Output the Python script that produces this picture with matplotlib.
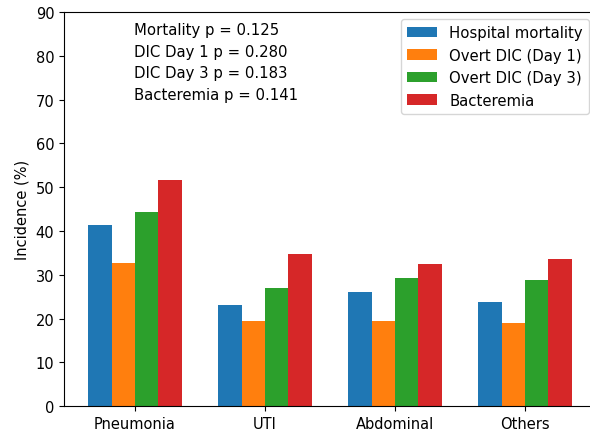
import numpy as np
import matplotlib
matplotlib.use("Agg")
from matplotlib import pyplot as plt

categories = ['Pneumonia', 'UTI', 'Abdominal', 'Others']
series_names = ['Hospital mortality', 'Overt DIC (Day 1)', 'Overt DIC (Day 3)', 'Bacteremia']
mortality = [41.4, 23.1, 26.0, 23.9]
dic_day1 = [32.6, 19.5, 19.5, 19.1]
dic_day3 = [44.3, 27.0, 29.2, 28.7]
bacteremia = [51.6, 34.8, 32.4, 33.6]
pvals = ['Mortality p = 0.125', 'DIC Day 1 p = 0.280', 'DIC Day 3 p = 0.183', 'Bacteremia p = 0.141']

plt.rcParams['font.size'] = 10.5

fig = plt.figure(figsize=(5.9, 4.35), dpi=100)
# the source image is cropped: right spine sits just past the edge
ax = fig.add_axes([0.1085, 0.064, 0.9017, 0.906])

x = np.arange(len(categories))
width = 0.18
data = [mortality, dic_day1, dic_day3, bacteremia]
for i, (vals, name) in enumerate(zip(data, series_names)):
    ax.bar(x + (i - 1.5) * width, vals, width, label=name)

ax.set_xticks(x)
ax.set_xticklabels(categories)
ax.set_ylim(0, 90)
ax.set_ylabel('Incidence (%)')
ax.legend(loc='upper right', fontsize=10.7)

ax.text(0.1316, 0.975, '\n'.join(pvals), transform=ax.transAxes, va='top', ha='left',
        fontsize=10.7, linespacing=1.55)

fig.savefig('out.png', dpi=100)
